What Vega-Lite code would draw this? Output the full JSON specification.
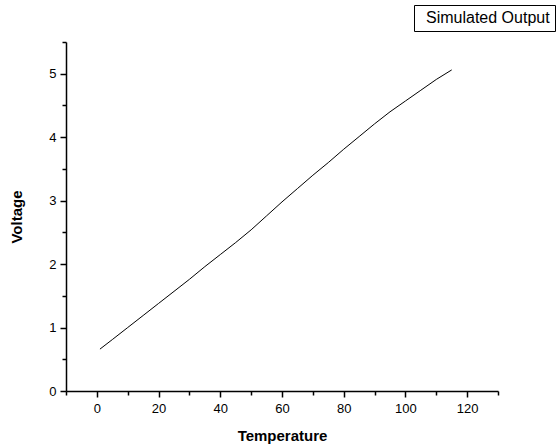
{
  "$schema": "https://vega.github.io/schema/vega-lite/v6.json",
  "width": 432,
  "height": 349,
  "autosize": {"type": "none"},
  "padding": {"left": 66, "top": 42, "right": 58, "bottom": 54},
  "background": "white",
  "config": {"view": {"stroke": null}, "font": "Liberation Sans"},
  "data": {"values": [
    {"Temperature": 1, "Voltage": 0.66},
    {"Temperature": 5, "Voltage": 0.81},
    {"Temperature": 10, "Voltage": 1.00},
    {"Temperature": 15, "Voltage": 1.19},
    {"Temperature": 20, "Voltage": 1.38},
    {"Temperature": 25, "Voltage": 1.57},
    {"Temperature": 30, "Voltage": 1.76},
    {"Temperature": 35, "Voltage": 1.96},
    {"Temperature": 40, "Voltage": 2.15},
    {"Temperature": 45, "Voltage": 2.34},
    {"Temperature": 50, "Voltage": 2.54},
    {"Temperature": 55, "Voltage": 2.76},
    {"Temperature": 60, "Voltage": 2.98},
    {"Temperature": 65, "Voltage": 3.19},
    {"Temperature": 70, "Voltage": 3.40},
    {"Temperature": 75, "Voltage": 3.60},
    {"Temperature": 80, "Voltage": 3.81},
    {"Temperature": 85, "Voltage": 4.01},
    {"Temperature": 90, "Voltage": 4.21},
    {"Temperature": 95, "Voltage": 4.40},
    {"Temperature": 100, "Voltage": 4.57},
    {"Temperature": 105, "Voltage": 4.74},
    {"Temperature": 110, "Voltage": 4.91},
    {"Temperature": 115, "Voltage": 5.06}
  ]},
  "mark": {"type": "line", "strokeWidth": 1},
  "encoding": {
    "x": {
      "field": "Temperature", "type": "quantitative",
      "scale": {"domain": [-10, 130], "nice": false, "zero": false},
      "axis": {
        "title": "Temperature",
        "values": [-10, 0, 10, 20, 30, 40, 50, 60, 70, 80, 90, 100, 110, 120, 130],
        "labelExpr": "datum.value % 20 === 0 && datum.value >= 0 && datum.value <= 120 ? format(datum.value, 'd') : ''",
        "tickSize": {"condition": {"test": "datum.value % 20 === 0 && datum.value >= 0", "value": 6}, "value": 4},
        "grid": false,
        "domainColor": "black", "domainWidth": 1.5,
        "tickColor": "black", "tickWidth": 1.5,
        "labelColor": "black", "labelFontSize": 13, "labelPadding": 5,
        "labelFlush": false, "labelOverlap": false,
        "titleColor": "black", "titleFontSize": 15, "titleFontWeight": "bold", "titlePadding": 13
      }
    },
    "y": {
      "field": "Voltage", "type": "quantitative",
      "scale": {"domain": [0, 5.5], "nice": false, "zero": false},
      "axis": {
        "title": "Voltage",
        "values": [0, 0.5, 1, 1.5, 2, 2.5, 3, 3.5, 4, 4.5, 5, 5.5],
        "labelExpr": "datum.value % 1 === 0 ? format(datum.value, 'd') : ''",
        "tickSize": {"condition": {"test": "datum.value % 1 === 0", "value": 6}, "value": 4},
        "grid": false,
        "domainColor": "black", "domainWidth": 1.5,
        "tickColor": "black", "tickWidth": 1.5,
        "labelColor": "black", "labelFontSize": 13, "labelPadding": 4,
        "labelFlush": false, "labelOverlap": false,
        "titleColor": "black", "titleFontSize": 15, "titleFontWeight": "bold", "titlePadding": 24
      }
    },
    "color": {
      "datum": "Simulated Output",
      "scale": {"range": ["black"]},
      "legend": {
        "title": null,
        "orient": "none",
        "legendX": 348,
        "legendY": -37,
        "strokeColor": "black",
        "fillColor": "white",
        "padding": 5,
        "symbolOpacity": 0,
        "symbolSize": 0,
        "symbolStrokeWidth": 0,
        "labelOffset": -9,
        "labelFontSize": 16,
        "labelColor": "black"
      }
    }
  }
}
